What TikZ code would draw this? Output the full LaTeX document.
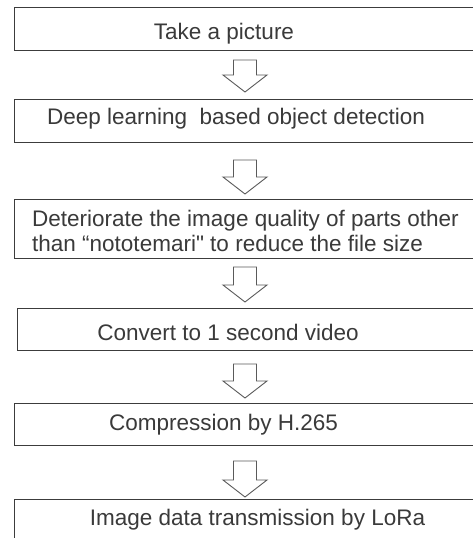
\documentclass[tikz,border=0pt]{standalone}
\usepackage{fontspec}
\setmainfont{Liberation Sans}[Ligatures=TeXOff]
\usetikzlibrary{calc}

\definecolor{inkline}{HTML}{3C3C3C}
\definecolor{inktext}{HTML}{3A3A3A}
\definecolor{arrowgray}{HTML}{5A5A5A}

\tikzset{
  stepbox/.style={draw=inkline, line width=1.2pt, rectangle, inner sep=0pt, anchor=north west},
  steptext/.style={text=inktext, font=\fontsize{22.5}{25}\selectfont, inner sep=0pt, anchor=base},
  arrowline/.style={draw=arrowgray, line width=0.9pt, line join=miter, fill=white},
}

% hollow block arrow: name, top y, tip y (shaft 23 wide, head 44 wide)
\newcommand\blockarrow[3]{%
  \coordinate (#1top) at (245,#2);
  \coordinate (#1tip) at (245,#3);
  \draw[arrowline] ($(#1top)+(-11.5,0)$) -- ($(#1top)+(11.5,0)$)
    -- ($(#1tip)+(11.5,-17)$) -- ($(#1tip)+(22,-17)$) -- (#1tip)
    -- ($(#1tip)+(-22,-17)$) -- ($(#1tip)+(-11.5,-17)$) -- cycle;
}

\begin{document}
\begin{tikzpicture}[x=1pt, y=-1pt]
  \clip (0,0) rectangle (473,538);
  \fill[white] (0,0) rectangle (473,538);

  % process boxes (their right sides run off the page)
  \node[stepbox, minimum width=470pt, minimum height=43pt] (b1) at (14,7) {};
  \node[stepbox, minimum width=470pt, minimum height=43pt] (b2) at (14,99) {};
  \node[stepbox, minimum width=470pt, minimum height=59pt] (b3) at (14,199) {};
  \node[stepbox, minimum width=467pt, minimum height=42pt] (b4) at (17,308) {};
  \node[stepbox, minimum width=470pt, minimum height=42pt] (b5) at (14,403) {};
  \node[stepbox, minimum width=470pt, minimum height=50pt] (b6) at (14,499) {};

  % labels (placed by baseline)
  \node[steptext] (t1) at (224,39) {Take a picture};
  \node[steptext] (t2) at (236,124) {Deep learning~ based object detection};
  \node[steptext, align=left, anchor=west] (t3) at (32,231.3)
    {Deteriorate the image quality of parts other\\than “nototemari" to reduce the file size};
  \node[steptext] (t4) at (228,340) {Convert to 1 second video};
  \node[steptext] (t5) at (223.5,430.5) {Compression by H.265};
  \node[steptext] (t6) at (257.5,525) {Image data transmission by LoRa};

  % arrows between steps
  \blockarrow{a1}{60}{92}
  \blockarrow{a2}{160}{194}
  \blockarrow{a3}{267}{302}
  \blockarrow{a4}{364}{398}
  \blockarrow{a5}{461}{497}
\end{tikzpicture}
\end{document}
